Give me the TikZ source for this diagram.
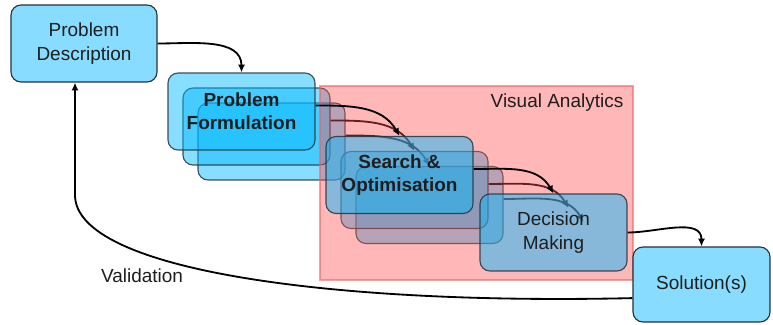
\documentclass[tikz,border=0pt]{standalone}
\usepackage{fontspec}
\setmainfont{Liberation Sans}
\usetikzlibrary{arrows.meta}
\definecolor{box}{RGB}{0,185,255}
\definecolor{boxsolid}{RGB}{135,220,255}
\definecolor{va}{RGB}{255,75,75}
\definecolor{vaedge}{RGB}{235,100,100}
\definecolor{edge}{RGB}{40,50,60}
\definecolor{txt}{RGB}{30,30,30}
\tikzset{
  stage/.style={draw=edge, line width=0.8pt, rounded corners=0.25cm,
    minimum width=3.675cm, minimum height=1.925cm, align=center,
    text=txt, font=\fontsize{13.5}{16.5}\selectfont},
  layer/.style={stage, fill=box, fill opacity=0.47, draw opacity=0.85, text opacity=1},
  endbox/.style={stage, fill=boxsolid},
  flow/.style={line width=1.3pt, -{Latex[length=5.5pt,width=5pt]}},
  varegion/.style={fill=va, fill opacity=0.4, draw=vaedge, draw opacity=0.6, line width=1.2pt,
    minimum width=7.825cm, minimum height=4.85cm},
  caption/.style={text=txt, font=\fontsize{13.5}{16.5}\selectfont}
}
\newcommand{\stagelink}[2]{\draw[flow] ([yshift=0.15cm]#1.east) to[out=0,in=120] (#2);}

\begin{document}
\begin{tikzpicture}[x=0.025cm, y=0.025cm]
\useasboundingbox (0,0) rectangle (773,-324);
% third and second copies of the stack
\node[layer] (PF3) at (271.5,-141.5) {};
\node[layer] (SO3) at (429.5,-205) {};
\coordinate (DM3) at (583.5,-222);
\stagelink{PF3}{SO3.north}
\stagelink{SO3}{DM3}
\node[layer] (PF2) at (256.5,-126.5) {};
\node[layer] (SO2) at (414.5,-190) {};
\coordinate (DM2) at (568.5,-208);
\stagelink{PF2}{SO2.north}
\stagelink{SO2}{DM2}
% visual analytics region
\node[varegion] (VA) at (476.5,-183) {};
\node[caption] (VAlabel) at (557,-103) {Visual Analytics};
% front copy
\node[layer] (PF1) at (241.5,-111.5) {\textbf{Problem}\\\textbf{Formulation}};
\node[layer] (SO1) at (399.5,-175) {\textbf{Search \&}\\\textbf{Optimisation}};
\node[layer] (DM) at (553.5,-232.5) {Decision\\Making};
\stagelink{PF1}{SO1.north}
\stagelink{SO1}{DM.north}
% ends
\node[endbox, minimum width=3.65cm] (PD) at (84,-43.5) {Problem\\Description};
\node[endbox, minimum width=3.425cm, minimum height=1.875cm] (Sol) at (701.5,-284.5) {Solution(s)};
\draw[flow] (PD.east) to[out=0,in=90] (PF1.north);
\draw[flow] (DM.east) to[out=0,in=90] (Sol.north);
\coordinate (vbend) at (75,-195);
\draw[flow] ([yshift=-0.34cm]Sol.west) .. controls (330,-305) and (75,-270) .. (vbend) -- (PD.south -| vbend);
\node[caption] (valid) at (142,-276) {Validation};
\end{tikzpicture}
\end{document}
